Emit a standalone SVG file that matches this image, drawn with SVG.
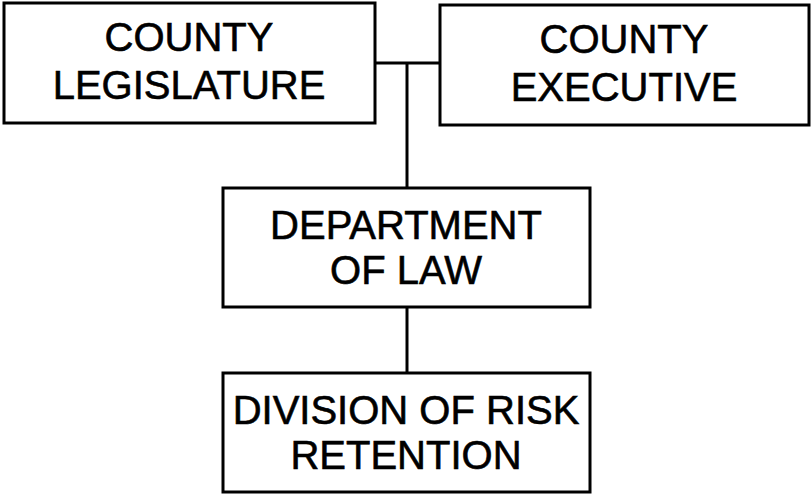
<svg xmlns="http://www.w3.org/2000/svg" width="811" height="497" viewBox="0 0 811 497">
<style>
.box{fill:#fff;stroke:#000;stroke-width:3}
.t{font-family:"Liberation Sans",Arial,sans-serif;font-size:40px;text-anchor:middle;fill:#000;stroke:#000;stroke-width:0.6}
.c{stroke:#000;stroke-width:3;fill:none}
</style>
<rect width="811" height="497" fill="#fff"/>
<g id="connectors">
<line class="c" x1="375" y1="63" x2="440" y2="63"/>
<line class="c" x1="407" y1="63" x2="407" y2="188"/>
<line class="c" x1="407" y1="307" x2="407" y2="373"/>
</g>
<g id="county-legislature">
<rect class="box" x="4" y="3" width="371" height="120"/>
<text class="t" x="189" y="51">COUNTY</text>
<text class="t" x="189" y="99">LEGISLATURE</text>
</g>
<g id="county-executive">
<rect class="box" x="440" y="5" width="369" height="120"/>
<text class="t" x="624" y="53">COUNTY</text>
<text class="t" x="624" y="101">EXECUTIVE</text>
</g>
<g id="department-of-law">
<rect class="box" x="223" y="188" width="367" height="119"/>
<text class="t" x="406" y="239">DEPARTMENT</text>
<text class="t" x="406" y="284">OF LAW</text>
</g>
<g id="division-of-risk-retention">
<rect class="box" x="223" y="373" width="367" height="119"/>
<text class="t" x="406" y="424">DIVISION OF RISK</text>
<text class="t" x="406" y="469">RETENTION</text>
</g>
</svg>
